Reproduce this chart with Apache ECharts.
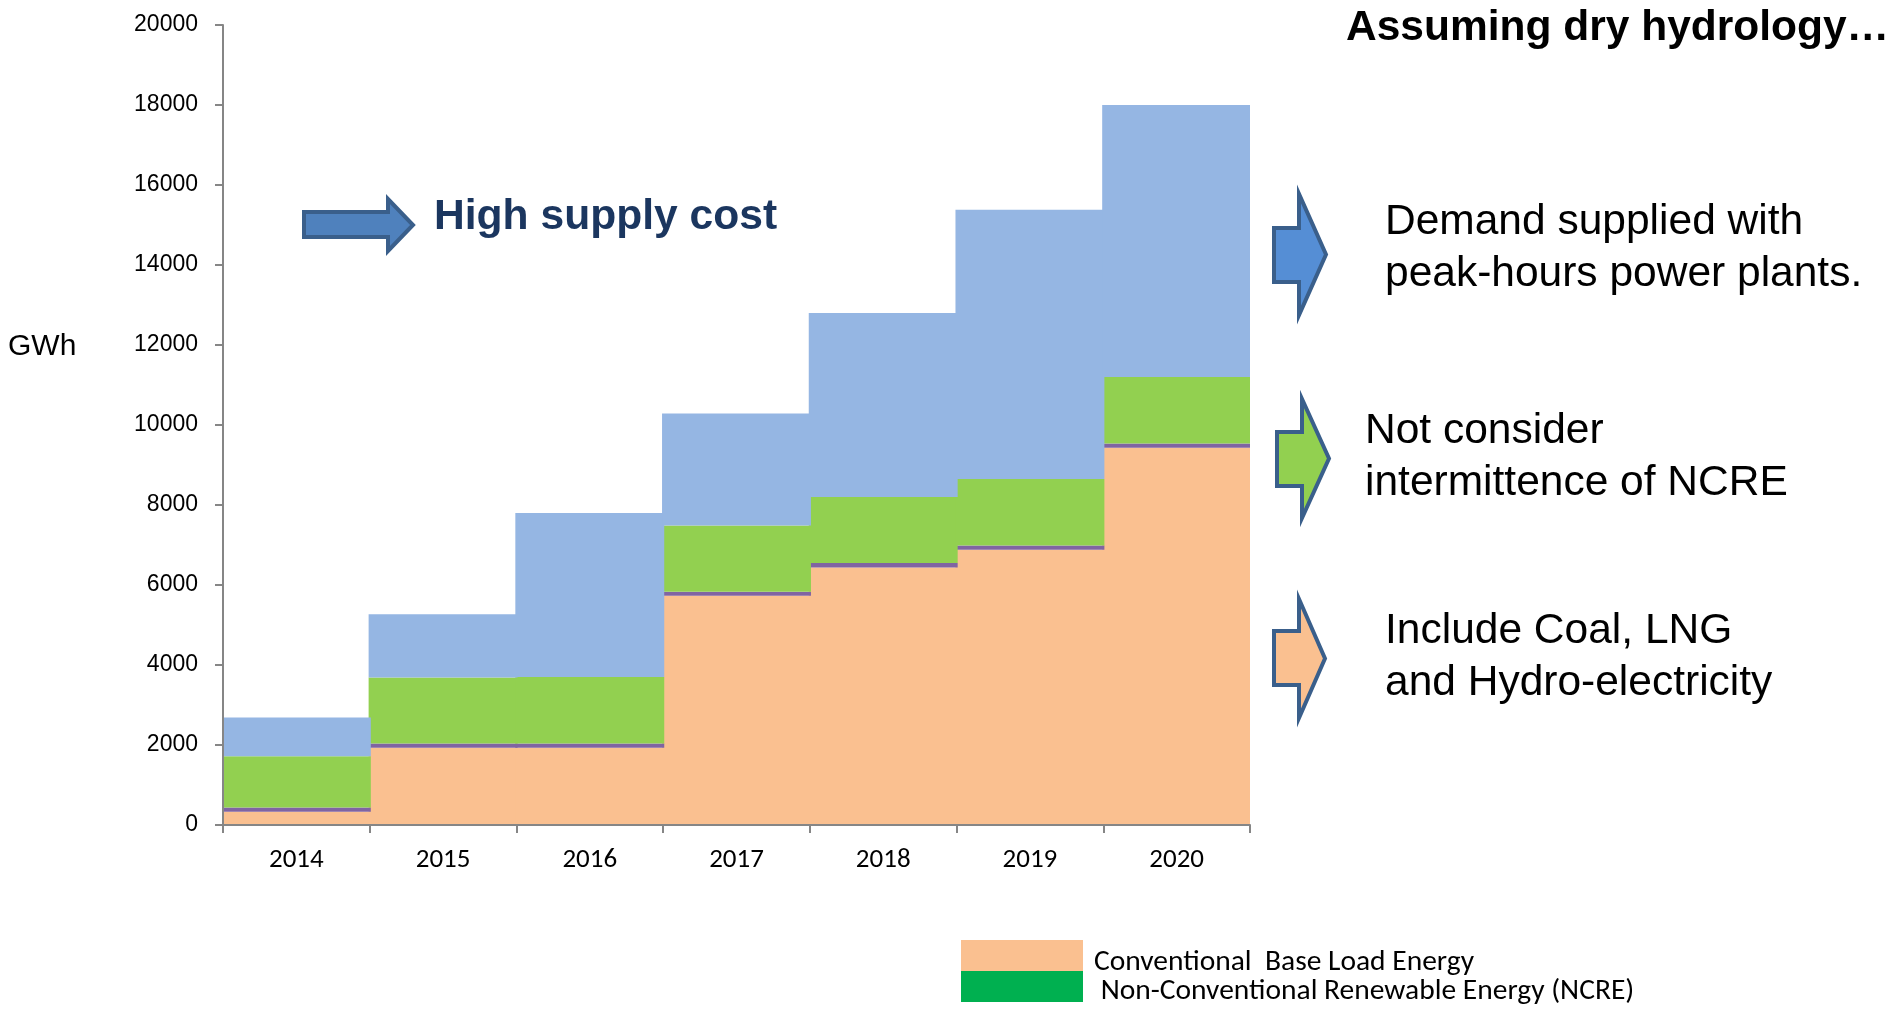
<!DOCTYPE html>
<html>
<head>
<meta charset="utf-8">
<title>Energy supply by source, 2014–2020</title>
<script src="https://cdn.jsdelivr.net/npm/echarts@6/dist/echarts.min.js"></script>
<style>
  html, body { margin: 0; padding: 0; background: #ffffff; }
  #chart { width: 1893px; height: 1017px; }
</style>
</head>
<body>
<div id="chart"></div>
<script>
// Years on the horizontal axis
const years = ['2014', '2015', '2016', '2017', '2018', '2019', '2020'];

// Stacked energy blocks, GWh (bottom to top)
const baseLoad  = [330, 1930, 1930, 5730, 6440, 6880, 9430];   // conventional base load
const otherBase = [110, 110, 110, 100, 110, 110, 110];          // thin band on top of base load
const ncre      = [1280, 1650, 1660, 1660, 1650, 1660, 1660];  // non-conventional renewables
const peakHours = [970, 1580, 4100, 2800, 4600, 6730, 6800];   // supplied with peak-hours plants

// Axis ticks
const yTicks = { min: 0, max: 20000, interval: 2000 };

// Key entries shown under the chart
const keyNames = ['Conventional  Base Load Energy', ' Non-Conventional Renewable Energy (NCRE)'];

const COLORS = {
  base: '#FAC090',
  other: '#8064A2',
  ncre: '#92D050',
  peak: '#95B6E3',
  ncreKey: '#00B050',
  arrowEdge: '#3A5F8B'
};

const chart = echarts.init(document.getElementById('chart'), null, { renderer: 'canvas' });

// Right-pointing block arrow outline
function arrowPoints(x0, hx, tx, top, bottom, bTop, bBot) {
  const mid = (top + bottom) / 2;
  return [[x0, bTop], [hx, bTop], [hx, top], [tx, mid], [hx, bottom], [hx, bBot], [x0, bBot]];
}

function arrow(points, fill) {
  return {
    type: 'polygon',
    shape: { points: points },
    style: { fill: fill, stroke: COLORS.arrowEdge, lineWidth: 4, lineJoin: 'miter' },
    z: 10
  };
}

function label(x, y, text, size, weight, color, family) {
  return {
    type: 'text',
    left: x, top: y,
    style: {
      text: text,
      font: weight + ' ' + size + 'px ' + (family || '"Liberation Sans", Arial, sans-serif'),
      fill: color || '#000000',
      lineHeight: Math.round(size * 1.22)
    },
    z: 10
  };
}

function swatch(x, y, w, h, fill) {
  return { type: 'rect', shape: { x: x, y: y, width: w, height: h }, style: { fill: fill }, z: 10 };
}

// One stacked band; bars a hair wider than their year so neighbours meet without seams
const band = (name, data, color) => ({
  name: name,
  type: 'bar',
  stack: 'energy',
  data: data,
  barWidth: '101.5%',
  itemStyle: { color: color },
  emphasis: { disabled: true },
  silent: true
});

const keyFont = 'Carlito, Lato, sans-serif';

const option = {
  animation: false,
  backgroundColor: '#ffffff',
  grid: { left: 223, right: 643, top: 25, bottom: 192, containLabel: false },
  xAxis: {
    type: 'category',
    data: years,
    boundaryGap: true,
    z: 5,
    axisLine: { lineStyle: { color: '#868686', width: 2 } },
    axisTick: { show: true, length: 8, lineStyle: { color: '#868686', width: 2 } },
    axisLabel: { margin: 22, fontFamily: keyFont, fontSize: 27, color: '#000000' },
    splitLine: { show: false }
  },
  yAxis: {
    type: 'value',
    min: yTicks.min,
    max: yTicks.max,
    interval: yTicks.interval,
    z: 5,
    axisLine: { show: true, lineStyle: { color: '#868686', width: 2 } },
    axisTick: { show: true, length: 8, lineStyle: { color: '#868686', width: 2 } },
    axisLabel: {
      margin: 25,
      fontFamily: '"Liberation Sans", Arial, sans-serif',
      fontSize: 23,
      color: '#000000',
      formatter: (v) => String(v)
    },
    splitLine: { show: false }
  },
  series: [
    band('Conventional  Base Load Energy', baseLoad, COLORS.base),
    band('Other base load', otherBase, COLORS.other),
    band('Non-Conventional Renewable Energy (NCRE)', ncre, COLORS.ncre),
    band('Peak-hours supply', peakHours, COLORS.peak)
  ],
  graphic: [
    // Unit label
    label(8, 328, 'GWh', 30, 'normal'),
    // Heading
    label(1346, 2, 'Assuming dry hydrology…', 42.5, 'bold'),
    // Cost callout
    arrow(arrowPoints(304, 388, 413, 199, 251, 212, 237), '#4F81BD'),
    label(434, 191, 'High supply cost', 42.6, 'bold', '#1B365F'),
    // Notes with their arrows
    arrow(arrowPoints(1274, 1299, 1326, 194, 315, 228, 282), '#558ED5'),
    label(1385, 196, 'Demand supplied with\npeak-hours power plants.', 42.5, 'normal'),
    arrow(arrowPoints(1277, 1302, 1329, 399, 518, 432, 486), COLORS.ncre),
    label(1365, 405, 'Not consider\nintermittence of NCRE', 42.5, 'normal'),
    arrow(arrowPoints(1274, 1299, 1325, 599, 718, 631, 685), COLORS.base),
    label(1385, 605, 'Include Coal, LNG\nand Hydro-electricity', 42.5, 'normal'),
    // Key
    swatch(961, 940, 122, 31, COLORS.base),
    swatch(961, 971, 122, 31, COLORS.ncreKey),
    label(1094, 945, keyNames[0], 29.5, 'normal', '#000000', keyFont),
    label(1094, 974, keyNames[1], 29.5, 'normal', '#000000', keyFont)
  ]
};

chart.setOption(option);
</script>
</body>
</html>
